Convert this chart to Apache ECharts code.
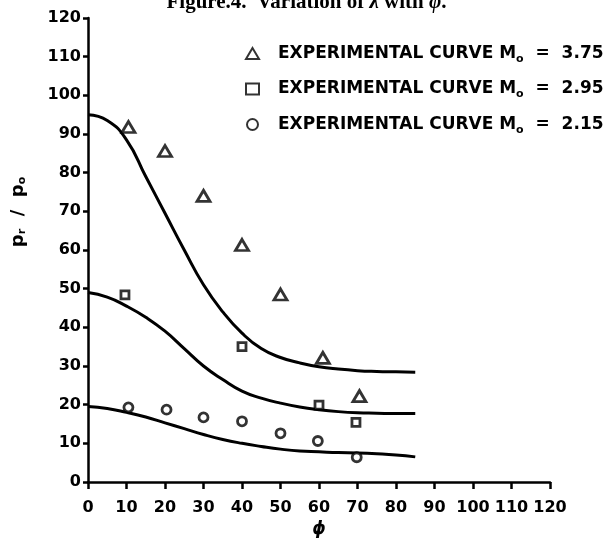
<!DOCTYPE html>
<html>
<head>
<meta charset="utf-8">
<script src="https://cdn.jsdelivr.net/npm/echarts@6/dist/echarts.min.js"></script>
<style>
  html, body { margin: 0; padding: 0; background: #fff; }
  #chart { width: 613px; height: 538px; }
</style>
</head>
<body>
<div id="chart"></div>
<script>
// tick labels
const xTicks = [0, 10, 20, 30, 40, 50, 60, 70, 80, 90, 100, 110, 120];
const yTicks = [0, 10, 20, 30, 40, 50, 60, 70, 80, 90, 100, 110, 120];

// theoretical curves, read along phi
const curvePhi = [0, 5, 10, 15, 20, 25, 30, 35, 40, 45, 50, 55, 60, 65, 70, 75, 80, 85];
const curveHigh = [95, 93.5, 88.5, 79, 69.5, 60, 51, 44, 38.5, 34.5, 32.2, 30.8, 29.8, 29.2, 28.8, 28.6, 28.5, 28.4];
const curveMid = [49, 47.8, 45.5, 42.6, 39, 34.5, 30, 26.5, 23.5, 21.7, 20.4, 19.4, 18.7, 18.2, 17.9, 17.8, 17.7, 17.7];
const curveLow = [19.5, 19, 18, 16.8, 15.3, 13.8, 12.3, 11, 10, 9.2, 8.5, 8, 7.8, 7.6, 7.5, 7.3, 7, 6.5];

// experimental points
const machNumbers = ['3.75', '2.95', '2.15'];
const triPhi = [10.5, 20, 30, 40, 50, 61, 70.5];
const triRatio = [91.8, 85.6, 74, 61.3, 48.5, 32.1, 22.2];
const sqPhi = [9.6, 40, 60, 69.6];
const sqRatio = [48.4, 35, 19.9, 15.4];
const cirPhi = [10.5, 20.4, 30, 40, 50, 59.7, 69.8];
const cirRatio = [19.3, 18.7, 16.7, 15.7, 12.6, 10.6, 6.4];

const pairs = (xs, ys) => xs.map((x, i) => [x, ys[i]]);

const FONT = 'DejaVu Sans';

(function () {
  const myChart = echarts.init(document.getElementById('chart'));

  const axisCommon = {
    type: 'value',
    min: 0,
    max: 120,
    interval: 10,
    axisLine: { show: true, lineStyle: { color: '#000', width: 2.5 } },
    splitLine: { show: false },
  };

  // open markers with a heavy outline
  const hollow = {
    color: '#fff',
    borderColor: '#000',
    borderWidth: 2.8,
  };

  const curveSeries = (data) => ({
    type: 'line',
    data: data,
    smooth: 0.5,
    symbol: 'none',
    silent: true,
    lineStyle: { color: '#000', width: 3 },
    z: 2,
  });

  const option = {
    animation: false,
    backgroundColor: '#fff',
    grid: {
      left: 88,
      right: 63,
      top: 18,
      bottom: 56,
      outerBoundsMode: 'none',
    },
    title: {
      text: 'Figure.4.  Variation of {i|λ} with {i|φ}.',
      left: 'center',
      top: -13,
      textStyle: {
        fontFamily: 'Liberation Serif',
        fontWeight: 'bold',
        fontSize: 21,
        color: '#000',
        rich: {
          i: {
            fontFamily: 'Liberation Serif',
            fontStyle: 'italic',
            fontSize: 21,
            color: '#000',
          },
        },
      },
    },
    legend: {
      orient: 'vertical',
      left: 240,
      top: 40,
      itemGap: 16,
      itemWidth: 13,
      itemHeight: 11,
      selectedMode: false,
      data: machNumbers.map((m) => 'M' + m),
      formatter: (name) => '{a|EXPERIMENTAL CURVE M}{s|o}{b|  =  ' + name.slice(1) + '}',
      textStyle: {
        rich: {
          a: {
            fontFamily: FONT,
            fontWeight: 'bold',
            fontSize: 17,
            lineHeight: 22,
            color: '#000',
            padding: [0, 0, 0, 14],
          },
          b: {
            fontFamily: FONT,
            fontWeight: 'bold',
            fontSize: 17,
            lineHeight: 22,
            color: '#000',
          },
          s: {
            fontFamily: FONT,
            fontWeight: 'bold',
            fontSize: 11,
            lineHeight: 22,
            verticalAlign: 'bottom',
            color: '#000',
          },
        },
      },
    },
    xAxis: {
      ...axisCommon,
      name: 'ϕ',
      nameLocation: 'middle',
      nameGap: 39,
      nameTextStyle: {
        fontFamily: FONT,
        fontWeight: 'bold',
        fontStyle: 'italic',
        fontSize: 17,
        color: '#000',
      },
      axisTick: { show: true, length: 7, lineStyle: { color: '#000', width: 2.5 } },
      axisLabel: {
        margin: 18,
        fontFamily: FONT,
        fontWeight: 'bold',
        fontSize: 16,
        color: '#000',
        formatter: (v) => (xTicks.includes(v) ? String(v) : ''),
      },
    },
    yAxis: {
      ...axisCommon,
      axisTick: { show: true, length: 5, lineStyle: { color: '#000', width: 2.5 } },
      axisLabel: {
        margin: 7,
        fontFamily: FONT,
        fontWeight: 'bold',
        fontSize: 16,
        color: '#000',
        formatter: (v) => (yTicks.includes(v) ? String(v) : ''),
      },
    },
    graphic: [
      {
        type: 'text',
        x: 18,
        y: 212,
        rotation: Math.PI / 2,
        style: {
          text: '{p|p}{s|r}{p|  /  p}{s|o}',
          align: 'center',
          verticalAlign: 'middle',
          rich: {
            p: { fontFamily: FONT, fontWeight: 'bold', fontSize: 18, lineHeight: 20, fill: '#000' },
            s: { fontFamily: FONT, fontWeight: 'bold', fontSize: 11, lineHeight: 20, verticalAlign: 'bottom', fill: '#000' },
          },
        },
      },
    ],
    series: [
      curveSeries(pairs(curvePhi, curveHigh)),
      curveSeries(pairs(curvePhi, curveMid)),
      curveSeries(pairs(curvePhi, curveLow)),
      {
        name: 'M' + machNumbers[0],
        type: 'scatter',
        symbol: 'triangle',
        symbolSize: [13, 11],
        itemStyle: hollow,
        data: pairs(triPhi, triRatio),
        z: 3,
      },
      {
        name: 'M' + machNumbers[1],
        type: 'scatter',
        symbol: 'rect',
        symbolSize: 8,
        itemStyle: hollow,
        data: pairs(sqPhi, sqRatio),
        z: 3,
      },
      {
        name: 'M' + machNumbers[2],
        type: 'scatter',
        symbol: 'circle',
        symbolSize: 9,
        itemStyle: hollow,
        data: pairs(cirPhi, cirRatio),
        z: 3,
      },
    ],
  };

  myChart.setOption(option);

  window.addEventListener('resize', () => {
    myChart.resize();
  });
})();
</script>
</body>
</html>
